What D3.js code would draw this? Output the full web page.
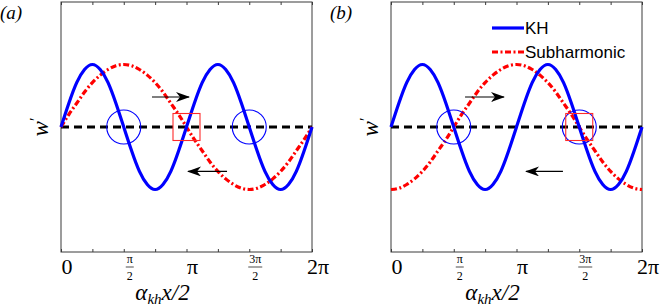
<!DOCTYPE html>
<html>
<head>
<meta charset="utf-8">
<script src="https://cdn.jsdelivr.net/npm/d3@7/dist/d3.min.js"></script>
<style>
  body { margin: 0; background: #fff; }
  svg { display: block; }
</style>
</head>
<body>
<div id="chart"></div>
<script>
var width = 664;
var height = 307;
var PI = Math.PI;

// sample positions, k*pi/16 for k = 0..32
var xs = d3.range(33).map(function(k) { return k * PI / 16; });

// KH mode (same in both panels), read at pi/16 steps
var khVals = [0, 0.38, 0.71, 0.92, 1, 0.92, 0.71, 0.38, 0, -0.38, -0.71, -0.92, -1, -0.92, -0.71, -0.38,
              0, 0.38, 0.71, 0.92, 1, 0.92, 0.71, 0.38, 0, -0.38, -0.71, -0.92, -1, -0.92, -0.71, -0.38, 0];
// subharmonic, panel (a)
var subValsA = [0, 0.2, 0.38, 0.56, 0.71, 0.83, 0.92, 0.98, 1, 0.98, 0.92, 0.83, 0.71, 0.56, 0.38, 0.2,
                0, -0.2, -0.38, -0.56, -0.71, -0.83, -0.92, -0.98, -1, -0.98, -0.92, -0.83, -0.71, -0.56, -0.38, -0.2, 0];
// subharmonic, panel (b)
var subValsB = [-1, -0.98, -0.92, -0.83, -0.71, -0.56, -0.38, -0.2, 0, 0.2, 0.38, 0.56, 0.71, 0.83, 0.92, 0.98,
                1, 0.98, 0.92, 0.83, 0.71, 0.56, 0.38, 0.2, 0, -0.2, -0.38, -0.56, -0.71, -0.83, -0.92, -0.98, -1];

var tickVals = [0, PI/4, PI/2, 3*PI/4, PI, 5*PI/4, 3*PI/2, 7*PI/4, 2*PI];
var labelVals = [0, PI/2, PI, 3*PI/2, 2*PI];
var labelNum = ["0", "π", "π", "3π", "2π"];
var labelDen = [null, "2", null, "2", null];

// markers (x in radians), arrows [x0, x1, y]
var circlesA = [PI/2, 3*PI/2];
var squaresA = [PI];
var arrowsA = [[0.725*PI, 1.02*PI, 0.48], [1.323*PI, 1.012*PI, -0.71]];
var circlesB = [PI/2, 3*PI/2];
var squaresB = [3*PI/2];
var arrowsB = [[0.59*PI, 0.90*PI, 0.48], [1.37*PI, 1.076*PI, -0.71]];

var legendNames = ["KH", "Subharmonic"];

var svg = d3.select("#chart")
  .append("svg")
  .attr("width", width)
  .attr("height", height);

var defs = svg.append("defs");
defs.append("marker")
  .attr("id", "head")
  .attr("viewBox", "0 0 14 10")
  .attr("refX", 13)
  .attr("refY", 5)
  .attr("markerWidth", 14)
  .attr("markerHeight", 10)
  .attr("markerUnits", "userSpaceOnUse")
  .attr("orient", "auto")
  .append("path")
  .attr("d", "M0,0 L14,5 L0,10 L4,5 Z")
  .attr("fill", "#000");

var serif = "'Liberation Serif','DejaVu Serif',serif";

function drawPanel(left, subVals, circles, squares, arrows, letter, withLegend) {
  var pw = 251, ph = 250, top = 2;
  var g = svg.append("g").attr("transform", "translate(" + left + "," + top + ")");

  var x = d3.scaleLinear().domain([0, 2*PI]).range([0, pw]);
  var y = d3.scaleLinear().domain([-2, 2]).range([ph, 0]);

  var line = d3.line()
    .x(function(d) { return x(d[0]); })
    .y(function(d) { return y(d[1]); })
    .curve(d3.curveNatural);

  // box
  g.append("rect")
    .attr("width", pw).attr("height", ph)
    .attr("fill", "none")
    .attr("stroke", "#3a3a3a")
    .attr("stroke-width", 1);

  var bottom = g.append("g")
    .attr("transform", "translate(0," + ph + ")")
    .call(d3.axisBottom(x).tickValues(tickVals).tickSize(-3).tickFormat(""));
  var topAx = g.append("g")
    .call(d3.axisTop(x).tickValues(tickVals).tickSize(-3).tickFormat(""));
  [bottom, topAx].forEach(function(a) {
    a.select(".domain").remove();
    a.selectAll("line").attr("stroke", "#3a3a3a");
  });

  // tick labels
  labelVals.forEach(function(v, i) {
    var cx = x(v) + 6;
    if (labelDen[i] == null) {
      g.append("text")
        .attr("x", cx).attr("y", ph + 22)
        .attr("text-anchor", "middle")
        .style("font", "22px " + serif)
        .text(labelNum[i]);
    } else {
      g.append("text")
        .attr("x", cx).attr("y", ph + 11)
        .attr("text-anchor", "middle")
        .style("font", "12px " + serif)
        .text(labelNum[i]);
      g.append("text")
        .attr("x", cx).attr("y", ph + 28)
        .attr("text-anchor", "middle")
        .style("font", "12px " + serif)
        .text(labelDen[i]);
      var bw = labelNum[i].length > 1 ? 14 : 8;
      g.append("line")
        .attr("x1", cx - bw/2).attr("x2", cx + bw/2)
        .attr("y1", ph + 15).attr("y2", ph + 15)
        .attr("stroke", "#000").attr("stroke-width", 0.7);
    }
  });

  // axis labels
  var xl = g.append("text")
    .attr("x", pw/2 - 24).attr("y", ph + 48)
    .attr("text-anchor", "middle")
    .style("font", "italic 23px " + serif);
  xl.append("tspan").text("α");
  xl.append("tspan").attr("dy", 4).style("font-size", "15px").text("kh");
  xl.append("tspan").attr("dy", -4).text("x/2");

  var yl = g.append("text")
    .attr("transform", "translate(-13," + (ph/2) + ") rotate(-90)")
    .attr("text-anchor", "middle")
    .style("font", "italic 23px " + serif);
  yl.append("tspan").text("w");
  yl.append("tspan").attr("dy", -7).style("font-size", "16px").style("font-style", "normal").text("′");

  svg.append("text")
    .attr("x", left - 61).attr("y", 19)
    .style("font", "italic 19px " + serif)
    .text("(" + letter + ")");

  // zero line
  g.append("path")
    .attr("d", line([[0, 0], [2*PI, 0]]))
    .attr("stroke", "#000")
    .attr("stroke-width", 3)
    .attr("stroke-dasharray", "8,5")
    .attr("fill", "none");

  g.append("path")
    .attr("d", line(xs.map(function(v, i) { return [v, subVals[i]]; })))
    .attr("stroke", "#ff0000")
    .attr("stroke-width", 3.2)
    .attr("stroke-dasharray", "6,2.5,2,2.5")
    .attr("fill", "none");

  g.append("path")
    .attr("d", line(xs.map(function(v, i) { return [v, khVals[i]]; })))
    .attr("stroke", "#0000ff")
    .attr("stroke-width", 3.2)
    .attr("fill", "none");

  g.selectAll(".ring").data(circles).enter().append("circle")
    .attr("class", "ring")
    .attr("cx", function(d) { return x(d); })
    .attr("cy", y(0))
    .attr("r", 17)
    .attr("fill", "none")
    .attr("stroke", "#0000ff")
    .attr("stroke-width", 1.1);

  g.selectAll(".sq").data(squares).enter().append("rect")
    .attr("class", "sq")
    .attr("x", function(d) { return x(d) - 13.5; })
    .attr("y", y(0) - 13.5)
    .attr("width", 27)
    .attr("height", 27)
    .attr("fill", "none")
    .attr("stroke", "#ff2a2a")
    .attr("stroke-width", 1.1);

  g.selectAll(".arr").data(arrows).enter().append("line")
    .attr("class", "arr")
    .attr("x1", function(d) { return x(d[0]); })
    .attr("x2", function(d) { return x(d[1]); })
    .attr("y1", function(d) { return y(d[2]); })
    .attr("y2", function(d) { return y(d[2]); })
    .attr("stroke", "#000")
    .attr("stroke-width", 1.2)
    .attr("marker-end", "url(#head)");

  if (withLegend) {
    var lg = g.append("g").attr("transform", "translate(101,26)");
    var styles = [{c: "#0000ff", dash: null}, {c: "#ff0000", dash: "6,2.5,2,2.5"}];
    legendNames.forEach(function(name, i) {
      lg.append("line")
        .attr("x1", 0).attr("x2", 32)
        .attr("y1", i * 24).attr("y2", i * 24)
        .attr("stroke", styles[i].c)
        .attr("stroke-width", 3.2)
        .attr("stroke-dasharray", styles[i].dash);
      lg.append("text")
        .attr("x", 33).attr("y", i * 24 + 6)
        .style("font", "17px 'Liberation Sans', Arial, sans-serif")
        .text(name);
    });
  }
}

drawPanel(61, subValsA, circlesA, squaresA, arrowsA, "a", false);
drawPanel(391, subValsB, circlesB, squaresB, arrowsB, "b", true);
</script>
</body>
</html>
